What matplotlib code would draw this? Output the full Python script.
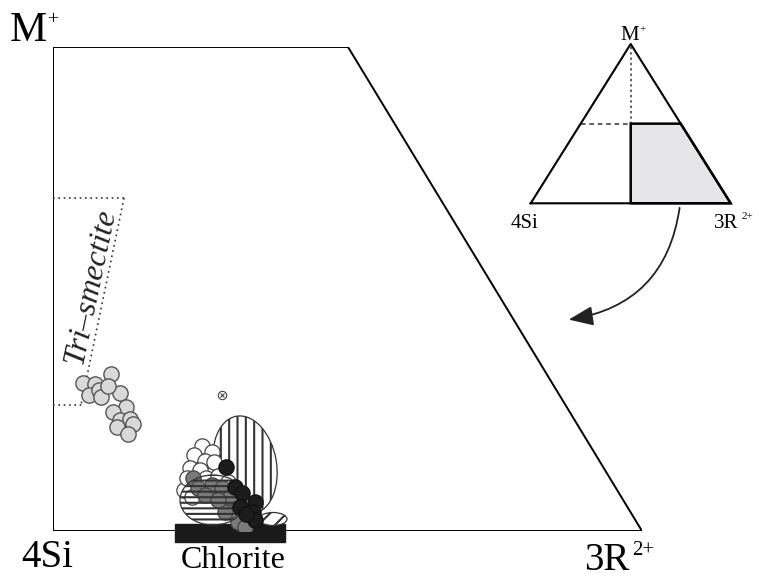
import matplotlib
matplotlib.use("Agg")
import matplotlib.pyplot as plt
from matplotlib.patches import Ellipse, Rectangle, Polygon, FancyArrowPatch

plt.rcParams["hatch.linewidth"] = 1.5

# Diagram coordinates: x runs from 4Si (0) towards 3R2+ (589), y from the base (0) to M+ (484)
frame_x = [0, 295, 589, 0, 0]
frame_y = [484, 484, 0, 0, 484]

# Tri-smectite field boundary
smectite_top_x, smectite_top_y = [0, 71], [333, 333]
smectite_side_x, smectite_side_y = [71, 28], [333, 126]
smectite_bot_x, smectite_bot_y = [0, 30], [126, 126]

# Tri-smectite analyses
tri_x = [30, 42, 58, 36, 46, 48, 67, 73, 60, 67, 77, 80, 64, 75, 55]
tri_y = [148, 147, 157, 136, 141, 134, 138, 124, 119, 111, 112, 107, 104, 97, 145]

# Chlorite analyses, three sample groups
open_x = [149, 159, 141, 152, 161, 137, 147, 131, 139, 153, 165, 175, 161, 179, 134]
open_y = [85, 79, 76, 70, 69, 63, 61, 41, 34, 53, 55, 49, 44, 36, 53]
grey_x = [140, 145, 159, 169, 152, 177, 172, 185, 192, 165]
grey_y = [53, 43, 46, 43, 36, 34, 19, 9, 4, 31]
black_x = [173, 182, 189, 187, 202, 200, 202, 193]
black_y = [64, 44, 38, 24, 29, 19, 11, 17]

# Single outlier analysis
outlier_x, outlier_y = [169], [136]

# Literature fields (centre x, centre y, width, height, angle)
field_vertical = (192, 66, 63, 99, 10)
field_horizontal = (160, 31, 66, 50, 0)
field_diagonal = (220, 12, 28, 13, 0)

# Ideal chlorite bar (x0, y0, width, height)
chlorite_bar = (122, -11, 110, 18)

W, H = 759, 583
fig = plt.figure(figsize=(W / 100, H / 100), dpi=100)


def fx(px):
    return px / W


def fy(py):
    return 1 - py / H


ax = fig.add_axes([fx(53), fy(531), 589 / W, 484 / H])
ax.set_xlim(0, 589)
ax.set_ylim(0, 484)
ax.axis("off")

ax.plot(frame_x, frame_y, color="black", lw=1.4, solid_joinstyle="miter", zorder=1)

dot = dict(color="#333333", lw=1.2, linestyle=(0, (1, 2.2)), zorder=1)
ax.plot(smectite_top_x, smectite_top_y, **dot)
ax.plot(smectite_side_x, smectite_side_y, **dot)
ax.plot(smectite_bot_x, smectite_bot_y, **dot)

ax.text(38, 245, "Tri\u2013smectite", rotation=78, rotation_mode="anchor",
        ha="center", va="center", fontsize=23, style="italic",
        family="Liberation Serif", color="#222222")

ax.plot(tri_x, tri_y, "o", ms=11, mfc="#d9d9d9", mec="#555555", mew=1.0, zorder=5)

# Chlorite fields and bar
bx, by, bw, bh = chlorite_bar
ax.add_patch(Rectangle((bx, by), bw, bh, facecolor="#1a1a1a", edgecolor="#1a1a1a",
                       clip_on=False, zorder=2))

cx, cy, ew, eh, ang = field_vertical
ax.add_patch(Ellipse((cx, cy), ew, eh, angle=ang, facecolor="white",
                     edgecolor="#333333", lw=0.9, hatch="||", zorder=2))

ax.plot(open_x, open_y, "o", ms=11, mfc="white", mec="#444444", mew=0.9, zorder=3)
ax.plot(grey_x, grey_y, "o", ms=11, mfc="#7a7a7a", mec="#444444", mew=0.9, zorder=4)

cx, cy, ew, eh, ang = field_horizontal
ax.add_patch(Ellipse((cx, cy), ew, eh, angle=ang, facecolor="none",
                     edgecolor="#333333", lw=0.9, hatch="---", zorder=5))

cx, cy, ew, eh, ang = field_diagonal
ax.add_patch(Ellipse((cx, cy), ew, eh, angle=ang, facecolor="white",
                     edgecolor="#333333", lw=0.9, hatch="//", zorder=5))

ax.plot(black_x, black_y, "o", ms=11, mfc="#1c1c1c", mec="#111111", mew=0.9, zorder=6)

ax.plot(outlier_x, outlier_y, "o", ms=6, mfc="white", mec="#444444", mew=0.8, zorder=6)
ax.plot(outlier_x, outlier_y, "x", ms=3.5, mec="#444444", mew=0.8, zorder=7)

# Arrow from the inset field to the main diagram
ax.add_patch(FancyArrowPatch((627, 326), (513, 211), connectionstyle="arc3,rad=-0.38",
                             arrowstyle="-|>,head_length=0.75,head_width=0.3",
                             mutation_scale=20, color="#222222", lw=1.3,
                             clip_on=False, zorder=3))

# Corner labels
serif = "Liberation Serif"
fig.text(fx(10), fy(41), "M", fontsize=30, family=serif, ha="left", va="baseline")
fig.text(fx(47), fy(24), "+", fontsize=14, family=serif, ha="left", va="baseline")
fig.text(fx(21), fy(567), "4Si", fontsize=28, family=serif, ha="left", va="baseline")
fig.text(fx(584), fy(570), "3R", fontsize=28, family=serif, ha="left", va="baseline")
fig.text(fx(632), fy(555), "2+", fontsize=15, family=serif, ha="left", va="baseline")
fig.text(fx(233), fy(568), "Chlorite", fontsize=23, family=serif, ha="center", va="baseline")

# Inset ternary triangle
ins = fig.add_axes([fx(530.7), fy(203.3), 200 / W, 159.3 / H])
ins.set_xlim(0, 1)
ins.set_ylim(0, 1)
ins.axis("off")
ins.add_patch(Polygon([(0.5, 0.5), (0.75, 0.5), (1, 0), (0.5, 0)], closed=True,
                      facecolor="#e6e6e8", edgecolor="black", lw=1.8, zorder=2,
                      clip_on=False))
ins.plot([0, 0.5, 1, 0], [0, 1, 0, 0], color="black", lw=1.5, zorder=3, clip_on=False)
ins.plot([0.5, 0.5], [0.5, 1], color="#333333", lw=1.1, linestyle=(0, (1.5, 2)), zorder=1)
ins.plot([0.25, 0.5], [0.5, 0.5], color="#333333", lw=1.1, linestyle=(0, (3, 2.5)), zorder=1)

fig.text(fx(630), fy(40.5), "M", fontsize=15, family=serif, ha="center", va="baseline")
fig.text(fx(639), fy(32), "+", fontsize=8, family=serif, ha="left", va="baseline")
fig.text(fx(511), fy(228), "4Si", fontsize=15, family=serif, ha="left", va="baseline")
fig.text(fx(714), fy(228), "3R", fontsize=15, family=serif, ha="left", va="baseline")
fig.text(fx(742), fy(219), "2+", fontsize=8, family=serif, ha="left", va="baseline")

fig.savefig("out.png", dpi=100, facecolor="white")
